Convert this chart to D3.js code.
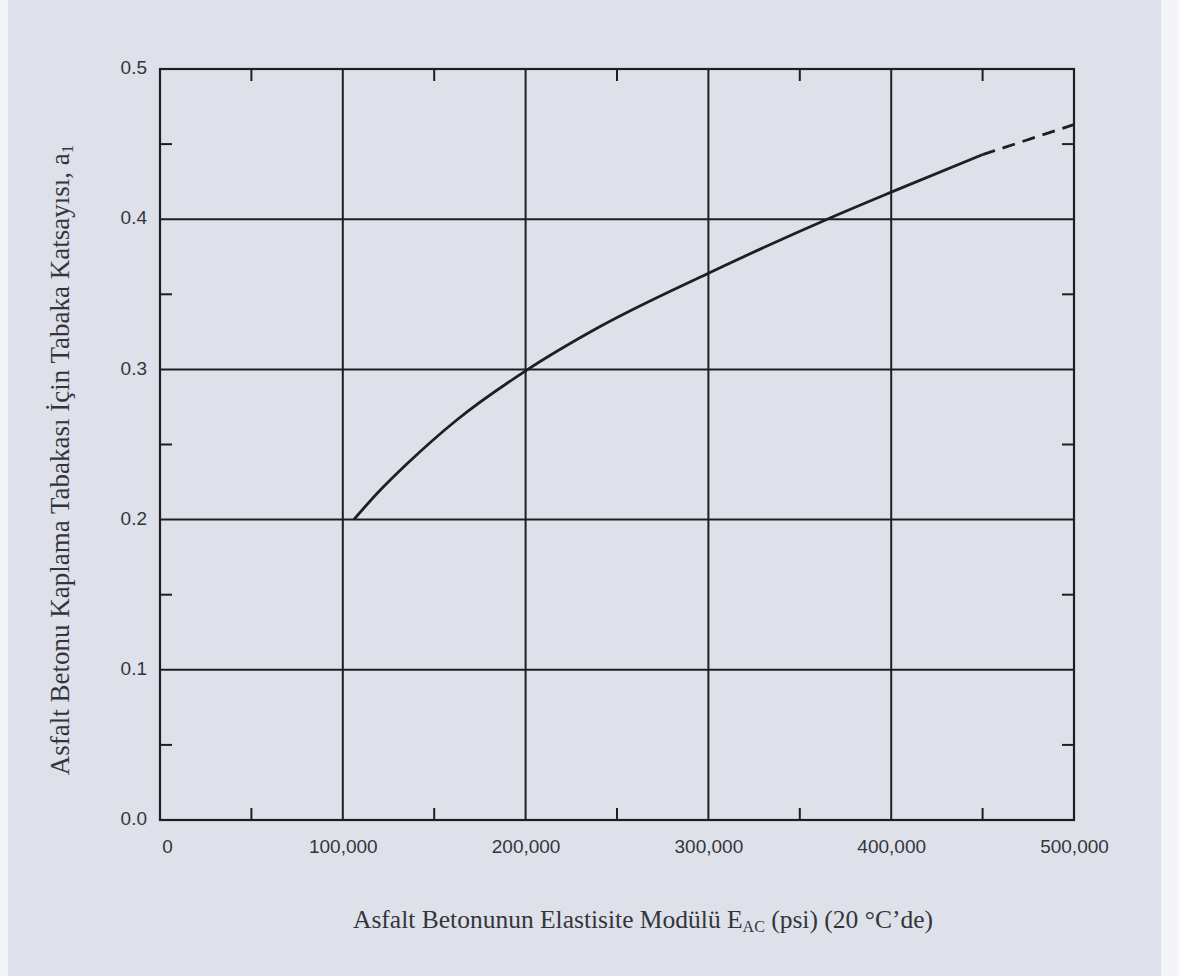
<!DOCTYPE html>
<html>
<head>
<meta charset="utf-8">
<script src="https://cdn.jsdelivr.net/npm/d3@7"></script>
<style>
  html, body { margin: 0; padding: 0; background: #f4f5f8; }
  svg { display: block; }
</style>
</head>
<body>
<svg id="chart" width="1179" height="976"></svg>
<script>
// Layer coefficient a1 versus elastic modulus of asphalt concrete (psi)
const modulusSolid = [106000, 120000, 135000, 162000, 200000, 240000, 300000, 365000, 400000, 450000];
const coefSolid    = [0.200, 0.219, 0.237, 0.266, 0.299, 0.328, 0.364, 0.400, 0.418, 0.443];
const modulusDashed = [450000, 475000, 500000];
const coefDashed    = [0.443, 0.453, 0.463];

const xGrid = [100000, 200000, 300000, 400000];
const yGrid = [0.1, 0.2, 0.3, 0.4];
const xMinor = [50000, 150000, 250000, 350000, 450000];
const yMinor = [0.05, 0.15, 0.25, 0.35, 0.45];
const xTickValues = [0, 100000, 200000, 300000, 400000, 500000];
const yTickValues = [0, 0.1, 0.2, 0.3, 0.4, 0.5];

const svg = d3.select("#chart");
const ink = "#1e1f24";
const textInk = "#34353b";

// paper
svg.append("rect").attr("x", 8).attr("y", 0).attr("width", 1153).attr("height", 976)
  .attr("fill", "#dee1ea");

const x = d3.scaleLinear().domain([0, 500000]).range([160, 1074]);
const y = d3.scaleLinear().domain([0, 0.5]).range([820, 69]);

const g = svg.append("g");

// grid
g.selectAll("line.vg").data(xGrid).join("line")
  .attr("x1", d => x(d)).attr("x2", d => x(d))
  .attr("y1", y(0)).attr("y2", y(0.5))
  .attr("stroke", ink).attr("stroke-width", 2);
g.selectAll("line.hg").data(yGrid).join("line")
  .attr("y1", d => y(d)).attr("y2", d => y(d))
  .attr("x1", x(0)).attr("x2", x(500000))
  .attr("stroke", ink).attr("stroke-width", 2);

// minor ticks on all four sides, pointing inward
const tl = 12;
xMinor.forEach(v => {
  g.append("line").attr("x1", x(v)).attr("x2", x(v)).attr("y1", y(0)).attr("y2", y(0) - tl)
    .attr("stroke", ink).attr("stroke-width", 2);
  g.append("line").attr("x1", x(v)).attr("x2", x(v)).attr("y1", y(0.5)).attr("y2", y(0.5) + tl)
    .attr("stroke", ink).attr("stroke-width", 2);
});
yMinor.forEach(v => {
  g.append("line").attr("y1", y(v)).attr("y2", y(v)).attr("x1", x(0)).attr("x2", x(0) + tl)
    .attr("stroke", ink).attr("stroke-width", 2);
  g.append("line").attr("y1", y(v)).attr("y2", y(v)).attr("x1", x(500000)).attr("x2", x(500000) - tl)
    .attr("stroke", ink).attr("stroke-width", 2);
});

// frame
g.append("rect")
  .attr("x", x(0)).attr("y", y(0.5))
  .attr("width", x(500000) - x(0)).attr("height", y(0) - y(0.5))
  .attr("fill", "none").attr("stroke", ink).attr("stroke-width", 2.2);

// axes (labels only)
const xAxis = d3.axisBottom(x).tickValues(xTickValues).tickSize(0).tickPadding(20)
  .tickFormat(d3.format(","));
const xa = svg.append("g").attr("transform", `translate(0,${y(0)})`).call(xAxis);
xa.select(".domain").remove();
xa.selectAll("text").attr("font-family", "'Liberation Sans', Arial, sans-serif")
  .attr("font-size", 19).attr("fill", textInk)
  .attr("dx", d => d === 0 ? 7 : 0);

const yAxis = d3.axisLeft(y).tickValues(yTickValues).tickSize(0).tickPadding(13)
  .tickFormat(d3.format(".1f"));
const ya = svg.append("g").attr("transform", `translate(${x(0)},0)`).call(yAxis);
ya.select(".domain").remove();
ya.selectAll("text").attr("font-family", "'Liberation Sans', Arial, sans-serif")
  .attr("font-size", 19).attr("fill", textInk).attr("dy", "0.25em");

// curve
const line = d3.line().x(d => x(d[0])).y(d => y(d[1])).curve(d3.curveMonotoneX);
g.append("path")
  .datum(d3.zip(modulusSolid, coefSolid))
  .attr("d", line).attr("fill", "none").attr("stroke", ink).attr("stroke-width", 2.8);
g.append("path")
  .datum(d3.zip(modulusDashed, coefDashed))
  .attr("d", line).attr("fill", "none").attr("stroke", ink).attr("stroke-width", 2.8)
  .attr("stroke-dasharray", "13,8");

// axis titles
const xt = svg.append("text").attr("x", 643).attr("y", 928).attr("text-anchor", "middle")
  .attr("font-family", "'Liberation Serif', 'Times New Roman', serif")
  .attr("font-size", 25.5).attr("fill", textInk);
xt.append("tspan").text("Asfalt Betonunun Elastisite Modülü E");
xt.append("tspan").attr("font-size", 16).attr("dy", 4).text("AC");
xt.append("tspan").attr("dy", -4).text(" (psi) (20 °C’de)");

const yt = svg.append("text")
  .attr("transform", "translate(69,460) rotate(-90)")
  .attr("text-anchor", "middle")
  .attr("font-family", "'Liberation Serif', 'Times New Roman', serif")
  .attr("font-size", 27).attr("fill", textInk);
yt.append("tspan").text("Asfalt Betonu Kaplama Tabakası İçin Tabaka Katsayısı, a");
yt.append("tspan").attr("font-size", 17).attr("dy", 4).text("1");
</script>
</body>
</html>
